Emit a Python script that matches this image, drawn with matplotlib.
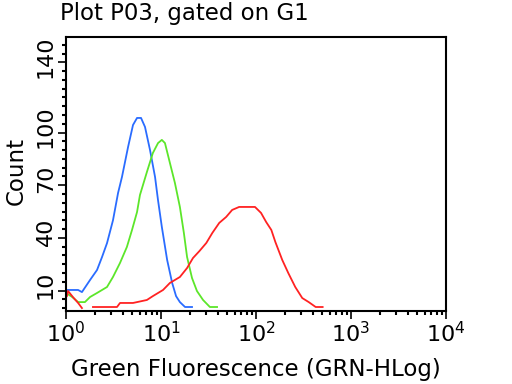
import numpy as np
import matplotlib
matplotlib.use("Agg")
import matplotlib.pyplot as plt
import matplotlib.transforms as mtransforms
from matplotlib.ticker import FixedLocator, MultipleLocator, LogLocator, NullFormatter

blue_x = [1.0, 1.0, 1.34, 1.47, 1.79, 2.12, 2.39, 2.70, 3.12, 3.53, 3.88, 4.50, 5.07,
          5.59, 6.16, 6.78, 7.66, 8.65, 9.29, 10.2, 11.6, 13.1, 14.4, 15.8, 17.9, 21.2]
blue_y = [0, 10.3, 10.3, 9.1, 16, 21.7, 29, 37, 50, 65.6, 74.7, 91.8, 104.3,
          108.3, 108.3, 103.2, 90, 74.7, 61.6, 46.2, 27.4, 14.3, 6.8, 3.4, 0.6, 0.6]

green_x = [1.0, 1.0, 1.16, 1.34, 1.58, 1.79, 2.12, 2.70, 3.12, 3.70, 4.37, 4.95, 5.59,
           6.0, 7.1, 8.2, 9.3, 10.2, 11.0, 12.4, 14.0, 15.8, 17.4, 18.8, 21.2, 23.9,
           27.7, 32.7, 38.9]
green_y = [0, 8.6, 6.3, 3.4, 3.4, 6.3, 8.6, 12, 17.7, 25.7, 34.8, 44.5, 54.7,
           64.4, 77.5, 88.3, 94, 95.8, 94, 82.7, 71.3, 57.6, 42.8, 29.1, 17.1, 9.7,
           4.6, 0.6, 0.6]

red_x = [1.02, 1.05, 1.18, 1.34, 1.47, np.nan, 1.92, 3.44, 3.70, 5.07, 7.1, 8.2, 10.5,
         12.4, 15.8, 18.8, 21.7, 25.4, 30.0, 34.7, 41.0, 48.5, 56.1, 66.4, 97.6, 113,
         128, 145, 160, 189, 219, 259, 307, 359, 425, 503]
red_y = [6.8, 9.7, 6.3, 2.9, 0, np.nan, 0.6, 0.6, 2.9, 2.9, 4.6, 6.8, 10.3,
         14.3, 17.7, 22.8, 28.5, 32.5, 37.1, 42.8, 48.5, 51.9, 55.9, 57.6, 57.6, 54.2,
         49, 44.5, 37.6, 27.4, 19.9, 12, 5.7, 3.4, 0.6, 0.6]

ytick_vals = [10, 40, 70, 100, 140]
ytick_labels = ["10", "40", "70", "100", "140"]

fig = plt.figure(figsize=(5.12, 3.84), dpi=100)
ax = fig.add_axes([0.129, 0.19, 0.742, 0.714])

ax.plot(blue_x, blue_y, color="#2a6cff", lw=1.3)
ax.plot(green_x, green_y, color="#5ce62a", lw=1.3)
ax.plot(red_x, red_y, color="#ff2222", lw=1.3)

ax.set_xscale("log")
ax.set_xlim(1, 1e4)
ax.set_ylim(-1.7, 154.5)

ax.xaxis.set_major_locator(LogLocator(base=10, numticks=10))
ax.xaxis.set_minor_locator(LogLocator(base=10, subs=np.arange(2, 10), numticks=20))
ax.xaxis.set_minor_formatter(NullFormatter())

ax.yaxis.set_major_locator(FixedLocator(ytick_vals))
ax.yaxis.set_minor_locator(MultipleLocator(5))
ax.tick_params(axis="y", labelleft=False)

# y labels sit a little above their ticks in the original
trans = ax.get_yaxis_transform() + mtransforms.ScaledTranslation(-0.20, 0.06, fig.dpi_scale_trans)
for v, t in zip(ytick_vals, ytick_labels):
    ax.text(0, v, t, transform=trans, rotation=90, fontsize=16,
            ha="center", va="center")

ax.tick_params(axis="both", which="major", direction="out", length=6, width=1.2,
               labelsize=16)
ax.tick_params(axis="both", which="minor", direction="out", length=3, width=1.5)
ax.tick_params(axis="x", pad=1)

for s in ax.spines.values():
    s.set_linewidth(1.5)

ax.set_xlabel("Green Fluorescence (GRN-HLog)", fontsize=16.5, labelpad=9)
ax.set_ylabel("Count", fontsize=16.5)
ax.yaxis.set_label_coords(-0.10, 0.51)
fig.text(0.118, 0.995, "Plot P03, gated on G1", fontsize=16.5, ha="left", va="top")

fig.savefig("out.png", dpi=100)
